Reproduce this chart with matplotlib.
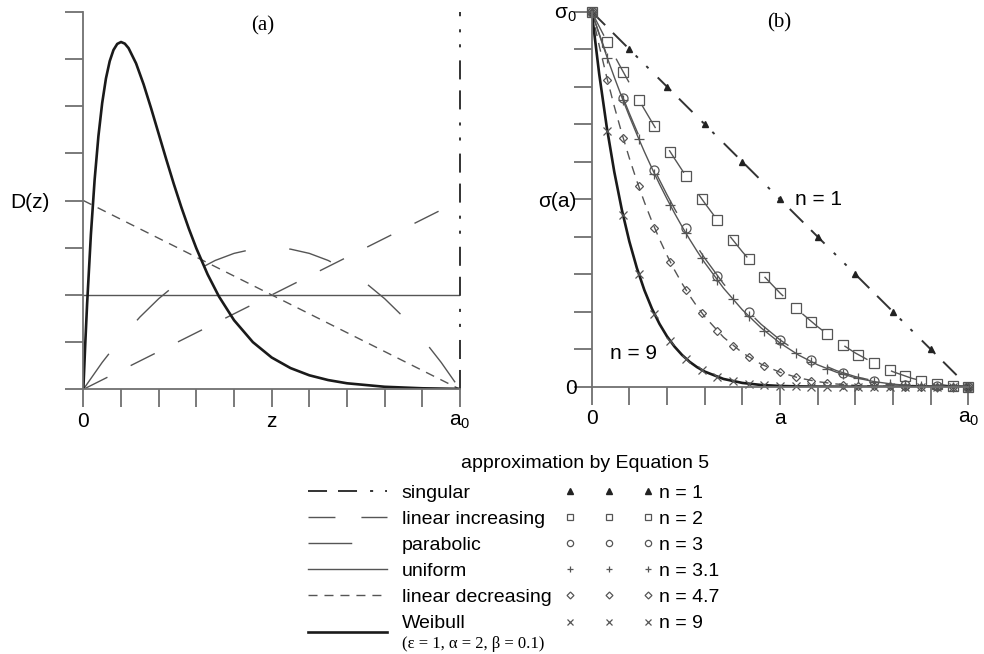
import matplotlib
matplotlib.use('Agg')
import matplotlib.pyplot as plt
from matplotlib.lines import Line2D
from matplotlib.legend_handler import HandlerLine2D

plt.rcParams['font.family'] = ['Liberation Sans', 'DejaVu Sans']
plt.rcParams['mathtext.fontset'] = 'custom'
plt.rcParams['mathtext.rm'] = 'Liberation Sans'
plt.rcParams['mathtext.it'] = 'Liberation Sans:italic'
plt.rcParams['lines.scale_dashes'] = False

# ---- panel (a) data: distributions D(z) ----
z_two = [0.0, 1.0]
d_uniform = [2.0, 2.0]
d_lin_dec = [4.0, 0.0]
d_lin_inc = [0.0, 4.0]
z_sing = [1.0, 1.0]
d_sing = [0.0, 8.0]
z_par = [0.0, 0.05, 0.1, 0.15, 0.2, 0.25, 0.3, 0.35, 0.4, 0.45, 0.5,
         0.55, 0.6, 0.65, 0.7, 0.75, 0.8, 0.85, 0.9, 0.95, 1.0]
d_par = [0.0, 0.57, 1.08, 1.53, 1.92, 2.25, 2.52, 2.73, 2.88, 2.97, 3.0,
         2.97, 2.88, 2.73, 2.52, 2.25, 1.92, 1.53, 1.08, 0.57, 0.0]
z_weib = [0.0, 0.005, 0.01, 0.02, 0.03, 0.04, 0.05, 0.06, 0.07, 0.08, 0.09, 0.10,
          0.11, 0.12, 0.14, 0.16, 0.18, 0.20, 0.22, 0.24, 0.26, 0.28, 0.30, 0.33,
          0.36, 0.40, 0.45, 0.50, 0.55, 0.60, 0.65, 0.70, 0.80, 0.90, 1.0]
d_weib = [0.0, 0.951, 1.810, 3.275, 4.445, 5.363, 6.065, 6.586, 6.952, 7.189, 7.318, 7.358,
          7.324, 7.229, 6.905, 6.461, 5.951, 5.413, 4.875, 4.354, 3.862, 3.405, 2.987, 2.434,
          1.967, 1.465, 1.000, 0.674, 0.450, 0.297, 0.196, 0.128, 0.054, 0.022, 0.009]

# ---- panel (b) data: stress profiles sigma(a) ----
a_line = [0.0, 0.02, 0.04, 0.06, 0.08, 0.10, 0.12, 0.14, 0.16, 0.18, 0.20, 0.22, 0.24, 0.26,
          0.28, 0.30, 0.35, 0.40, 0.45, 0.50, 0.55, 0.60, 0.65, 0.70, 0.75, 0.80, 0.85,
          0.90, 0.95, 1.0]
a_sing = [0.0, 1.0]
s_sing = [1.0, 0.0]
s_lin_inc = [1.0, 0.9604, 0.9216, 0.8836, 0.8464, 0.8100, 0.7744, 0.7396, 0.7056, 0.6724,
             0.6400, 0.6084, 0.5776, 0.5476, 0.5184, 0.4900, 0.4225, 0.3600, 0.3025, 0.2500,
             0.2025, 0.1600, 0.1225, 0.0900, 0.0625, 0.0400, 0.0225, 0.0100, 0.0025, 0.0]
s_par = [1.0, 0.9412, 0.8847, 0.8306, 0.7787, 0.7290, 0.6815, 0.6361, 0.5927, 0.5514,
         0.5120, 0.4746, 0.4390, 0.4052, 0.3732, 0.3430, 0.2746, 0.2160, 0.1664, 0.1250,
         0.0911, 0.0640, 0.0429, 0.0270, 0.0156, 0.0080, 0.0034, 0.0010, 0.0001, 0.0]
s_unif = [1.0, 0.9393, 0.8811, 0.8255, 0.7722, 0.7214, 0.6728, 0.6265, 0.5825, 0.5405,
          0.5007, 0.4629, 0.4271, 0.3932, 0.3612, 0.3310, 0.2630, 0.2052, 0.1567, 0.1166,
          0.0841, 0.0584, 0.0386, 0.0239, 0.0136, 0.0068, 0.0028, 0.0008, 0.0001, 0.0]
s_lin_dec = [1.0, 0.9094, 0.8254, 0.7477, 0.6758, 0.6095, 0.5484, 0.4922, 0.4407, 0.3935,
             0.3504, 0.3111, 0.2753, 0.2429, 0.2135, 0.1871, 0.1320, 0.0906, 0.0602, 0.0385,
             0.0234, 0.0135, 0.0072, 0.0035, 0.0015, 0.0005, 0.0001, 0.0, 0.0, 0.0]
s_weib = [1.0, 0.8337, 0.6925, 0.5730, 0.4722, 0.3874, 0.3165, 0.2573, 0.2082, 0.1676,
          0.1342, 0.1069, 0.0846, 0.0665, 0.0520, 0.0404, 0.0207, 0.0101, 0.0046, 0.0020,
          0.0008, 0.0003, 0.0001, 0.0, 0.0, 0.0, 0.0, 0.0, 0.0, 0.0]

# approximation points (Equation 5)
a_tri = [0.0, 0.1, 0.2, 0.3, 0.4, 0.5, 0.6, 0.7, 0.8, 0.9, 1.0]
s_n1 = [1.0, 0.9, 0.8, 0.7, 0.6, 0.5, 0.4, 0.3, 0.2, 0.1, 0.0]
a24 = [0.0, 0.0417, 0.0833, 0.1250, 0.1667, 0.2083, 0.2500, 0.2917, 0.3333, 0.3750, 0.4167,
       0.4583, 0.5000, 0.5417, 0.5833, 0.6250, 0.6667, 0.7083, 0.7500, 0.7917, 0.8333,
       0.8750, 0.9167, 0.9583, 1.0]
a12 = [0.0, 0.0833, 0.1667, 0.2500, 0.3333, 0.4167, 0.5000, 0.5833, 0.6667, 0.7500,
       0.8333, 0.9167, 1.0]
s_n2 = [1.0, 0.9184, 0.8403, 0.7656, 0.6944, 0.6267, 0.5625, 0.5017, 0.4444, 0.3906, 0.3403,
        0.2934, 0.2500, 0.2101, 0.1736, 0.1406, 0.1111, 0.0851, 0.0625, 0.0434, 0.0278,
        0.0156, 0.0069, 0.0017, 0.0]
s_n3 = [1.0, 0.7703, 0.5787, 0.4219, 0.2963, 0.1985, 0.1250, 0.0723, 0.0370, 0.0156,
        0.0046, 0.0006, 0.0]
s_n31 = [1.0, 0.8763, 0.7637, 0.6610, 0.5682, 0.4848, 0.4099, 0.3433, 0.2846, 0.2329, 0.1880,
         0.1495, 0.1166, 0.0890, 0.0663, 0.0478, 0.0332, 0.0219, 0.0136, 0.0077, 0.0039,
         0.0016, 0.0005, 0.0001, 0.0]
s_n47 = [1.0, 0.8187, 0.6643, 0.5339, 0.4245, 0.3335, 0.2587, 0.1978, 0.1487, 0.1098, 0.0794,
         0.0560, 0.0385, 0.0256, 0.0163, 0.0100, 0.0057, 0.0031, 0.0015, 0.0006, 0.0002,
         0.0001, 0.0, 0.0, 0.0]
s_n9 = [1.0, 0.6818, 0.4570, 0.3007, 0.1938, 0.1221, 0.0751, 0.0449, 0.0260, 0.0146, 0.0078,
        0.0040, 0.0020, 0.0009, 0.0004, 0.0001, 0.0001, 0.0, 0.0, 0.0, 0.0, 0.0, 0.0, 0.0, 0.0]

x_ticks = [0.0, 0.1, 0.2, 0.3, 0.4, 0.5, 0.6, 0.7, 0.8, 0.9, 1.0]
xlab_a = ['0', '', '', '', '', 'z', '', '', '', '', 'a$_0$']
xlab_b = ['0', '', '', '', '', 'a', '', '', '', '', 'a$_0$']
ytick_a = [0, 1, 2, 3, 4, 5, 6, 7, 8]
ylab_a = ['', '', '', '', 'D(z)', '', '', '', '']
ytick_b = [0.0, 0.1, 0.2, 0.3, 0.4, 0.5, 0.6, 0.7, 0.8, 0.9, 1.0]
ylab_b = ['0', '', '', '', '', 'σ(a)', '', '', '', '', 'σ$_0$']
dist_labels = ['singular', 'linear increasing', 'parabolic', 'uniform',
               'linear decreasing', 'Weibull']
n_labels = ['n = 1', 'n = 2', 'n = 3', 'n = 3.1', 'n = 4.7', 'n = 9']

GRAY = '#555555'
SING = dict(color='#333333', lw=1.4, dashes=[13.7, 7.9, 13.7, 9.4, 2.2, 8.6, 2.2, 9.4])
LINC = dict(color=GRAY, lw=1.0, dashes=[19.4, 18.7])
PARA = dict(color=GRAY, lw=1.0, dashes=[31.5, 31.5])
UNIF = dict(color=GRAY, lw=1.0)
LDEC = dict(color=GRAY, lw=1.0, dashes=[6.5, 5.0])
WEIB = dict(color='#1a1a1a', lw=1.9)

fig = plt.figure(figsize=(9.84, 6.54), dpi=100)
axa = fig.add_axes([0.0847, 0.4047, 0.3828, 0.5774])
axb = fig.add_axes([0.6013, 0.4087, 0.3827, 0.5734])

axa.plot(z_two, d_uniform, **UNIF)
axa.plot(z_two, d_lin_dec, **LDEC)
axa.plot(z_two, d_lin_inc, **LINC)
axa.plot(z_par, d_par, **PARA)
axa.plot(z_weib, d_weib, **WEIB)
axa.plot(z_sing, d_sing, clip_on=False, **SING)

axb.plot(a_sing, s_sing, **SING)
axb.plot(a_line, s_lin_inc, **LINC)
axb.plot(a_line, s_par, **PARA)
axb.plot(a_line, s_unif, **UNIF)
axb.plot(a_line, s_lin_dec, **LDEC)
axb.plot(a_line, s_weib, **WEIB)
mk = dict(ls='none', mfc='none', mec=GRAY, mew=0.9, clip_on=False)
axb.plot(a_tri, s_n1, ls='none', marker='^', ms=4.5, color='#222222', clip_on=False)
axb.plot(a24, s_n2, marker='s', ms=6.5, **mk)
axb.plot(a12, s_n3, marker='o', ms=6.5, **mk)
axb.plot(a24, s_n31, marker='+', ms=7, **mk)
axb.plot(a24, s_n47, marker='D', ms=4.2, **mk)
axb.plot(a24, s_n9, marker='x', ms=5.5, **mk)

SPINE = '#707070'
for ax in (axa, axb):
    for s in ('top', 'right'):
        ax.spines[s].set_visible(False)
    for s in ('left', 'bottom'):
        ax.spines[s].set_color(SPINE)
        ax.spines[s].set_linewidth(1.3)
    ax.set_xlim(0, 1)
    ax.set_xticks(x_ticks)
    ax.tick_params(direction='out', length=13, width=1.3, color=SPINE, labelsize=15)
    ax.tick_params(axis='x', pad=3)

axa.set_ylim(0, 8)
axa.set_yticks(ytick_a)
axa.set_yticklabels(ylab_a)
axa.set_xticklabels(xlab_a)
axa.tick_params(axis='y', pad=11)

axb.set_ylim(0, 1)
axb.set_yticks(ytick_b)
axb.set_yticklabels(ylab_b)
axb.set_xticklabels(xlab_b)
axb.tick_params(axis='y', pad=-2)

axa.text(0.477, 0.962, '(a)', transform=axa.transAxes, ha='center', va='center',
         family='Liberation Serif', fontsize=15)
axb.text(0.497, 0.970, '(b)', transform=axb.transAxes, ha='center', va='center',
         family='Liberation Serif', fontsize=15)
axb.text(0.54, 0.5, n_labels[0], ha='left', va='center', fontsize=15)
axb.text(0.049, 0.089, n_labels[-1], ha='left', va='center', fontsize=15)


class LowLineHandler(HandlerLine2D):
    """Draws the legend sample a little below the text row (as for 'Weibull')."""
    def create_artists(self, legend, orig_handle, xdescent, ydescent, width, height,
                       fontsize, trans):
        arts = super().create_artists(legend, orig_handle, xdescent, ydescent, width,
                                      height, fontsize, trans)
        for art in arts:
            art.set_ydata([y - 0.52 * fontsize for y in art.get_ydata()])
        return arts


h1 = [Line2D([], [], **SING), Line2D([], [], **LINC), Line2D([], [], **PARA),
      Line2D([], [], **UNIF), Line2D([], [], **LDEC), Line2D([], [], **WEIB)]
fig.legend(h1, dist_labels, loc='upper left', bbox_to_anchor=(308 / 984, 1 - 484 / 654),
           frameon=False, borderpad=0, borderaxespad=0, handlelength=4.05,
           handletextpad=0.77, labelspacing=0.44, fontsize=14,
           handler_map={h1[-1]: LowLineHandler()})
lm = dict(ls='none', mfc='none', mec=GRAY, mew=0.9)
h2 = [Line2D([], [], ls='none', marker='^', ms=4, color='#222222'),
      Line2D([], [], marker='s', ms=4.5, **lm),
      Line2D([], [], marker='o', ms=4.5, **lm),
      Line2D([], [], marker='+', ms=5, **lm),
      Line2D([], [], marker='D', ms=3.5, **lm),
      Line2D([], [], marker='x', ms=4, **lm)]
fig.legend(h2, n_labels, loc='upper left', bbox_to_anchor=(564 / 984, 1 - 484 / 654),
           frameon=False, borderpad=0, borderaxespad=0, handlelength=4.62, numpoints=3,
           handletextpad=0.25, labelspacing=0.44, fontsize=14)
fig.text(585 / 984, 1 - 463 / 654, 'approximation by Equation 5', ha='center', va='center',
         fontsize=14)
fig.text(402 / 984, 1 - 644 / 654, '(ε = 1, α = 2, β = 0.1)', ha='left', va='center',
         family='Liberation Serif', fontsize=12)

fig.savefig('out.png', dpi=100)
